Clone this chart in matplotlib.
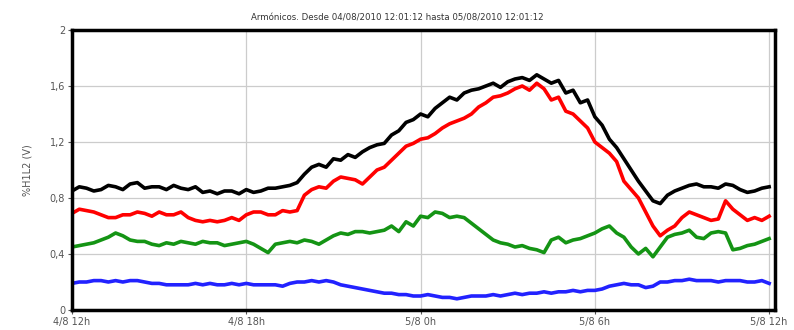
import numpy as np
import matplotlib
matplotlib.use("Agg")
from matplotlib import pyplot as plt

# sample times, hours after 04/08/2010 12:00, every 15 minutes
hours = np.arange(0, 24.01, 0.25)

black = [0.85, 0.88, 0.87, 0.85, 0.86, 0.89, 0.88, 0.86,
         0.90, 0.91, 0.87, 0.88, 0.88, 0.86, 0.89, 0.87,
         0.86, 0.88, 0.84, 0.85, 0.83, 0.85, 0.85, 0.83,
         0.86, 0.84, 0.85, 0.87, 0.87, 0.88, 0.89, 0.91,
         0.97, 1.02, 1.04, 1.02, 1.08, 1.07, 1.11, 1.09,
         1.13, 1.16, 1.18, 1.19, 1.25, 1.28, 1.34, 1.36,
         1.40, 1.38, 1.44, 1.48, 1.52, 1.50, 1.55, 1.57,
         1.58, 1.60, 1.62, 1.59, 1.63, 1.65, 1.66, 1.64,
         1.68, 1.65, 1.62, 1.64, 1.55, 1.57, 1.48, 1.50,
         1.38, 1.32, 1.22, 1.16, 1.08, 1.00, 0.92, 0.85,
         0.78, 0.76, 0.82, 0.85, 0.87, 0.89, 0.90, 0.88,
         0.88, 0.87, 0.90, 0.89, 0.86, 0.84, 0.85, 0.87,
         0.88]
red = [0.69, 0.72, 0.71, 0.70, 0.68, 0.66, 0.66, 0.68,
       0.68, 0.70, 0.69, 0.67, 0.70, 0.68, 0.68, 0.70,
       0.66, 0.64, 0.63, 0.64, 0.63, 0.64, 0.66, 0.64,
       0.68, 0.70, 0.70, 0.68, 0.68, 0.71, 0.70, 0.71,
       0.82, 0.86, 0.88, 0.87, 0.92, 0.95, 0.94, 0.93,
       0.90, 0.95, 1.00, 1.02, 1.07, 1.12, 1.17, 1.19,
       1.22, 1.23, 1.26, 1.30, 1.33, 1.35, 1.37, 1.40,
       1.45, 1.48, 1.52, 1.53, 1.55, 1.58, 1.60, 1.57,
       1.62, 1.58, 1.50, 1.52, 1.42, 1.40, 1.35, 1.30,
       1.20, 1.16, 1.12, 1.06, 0.92, 0.86, 0.80, 0.70,
       0.60, 0.53, 0.57, 0.60, 0.66, 0.70, 0.68, 0.66,
       0.64, 0.65, 0.78, 0.72, 0.68, 0.64, 0.66, 0.64,
       0.67]
green = [0.45, 0.46, 0.47, 0.48, 0.50, 0.52, 0.55, 0.53,
         0.50, 0.49, 0.49, 0.47, 0.46, 0.48, 0.47, 0.49,
         0.48, 0.47, 0.49, 0.48, 0.48, 0.46, 0.47, 0.48,
         0.49, 0.47, 0.44, 0.41, 0.47, 0.48, 0.49, 0.48,
         0.50, 0.49, 0.47, 0.50, 0.53, 0.55, 0.54, 0.56,
         0.56, 0.55, 0.56, 0.57, 0.60, 0.56, 0.63, 0.60,
         0.67, 0.66, 0.70, 0.69, 0.66, 0.67, 0.66, 0.62,
         0.58, 0.54, 0.50, 0.48, 0.47, 0.45, 0.46, 0.44,
         0.43, 0.41, 0.50, 0.52, 0.48, 0.50, 0.51, 0.53,
         0.55, 0.58, 0.60, 0.55, 0.52, 0.45, 0.40, 0.44,
         0.38, 0.45, 0.52, 0.54, 0.55, 0.57, 0.52, 0.51,
         0.55, 0.56, 0.55, 0.43, 0.44, 0.46, 0.47, 0.49,
         0.51]
blue = [0.19, 0.20, 0.20, 0.21, 0.21, 0.20, 0.21, 0.20,
        0.21, 0.21, 0.20, 0.19, 0.19, 0.18, 0.18, 0.18,
        0.18, 0.19, 0.18, 0.19, 0.18, 0.18, 0.19, 0.18,
        0.19, 0.18, 0.18, 0.18, 0.18, 0.17, 0.19, 0.20,
        0.20, 0.21, 0.20, 0.21, 0.20, 0.18, 0.17, 0.16,
        0.15, 0.14, 0.13, 0.12, 0.12, 0.11, 0.11, 0.10,
        0.10, 0.11, 0.10, 0.09, 0.09, 0.08, 0.09, 0.10,
        0.10, 0.10, 0.11, 0.10, 0.11, 0.12, 0.11, 0.12,
        0.12, 0.13, 0.12, 0.13, 0.13, 0.14, 0.13, 0.14,
        0.14, 0.15, 0.17, 0.18, 0.19, 0.18, 0.18, 0.16,
        0.17, 0.20, 0.20, 0.21, 0.21, 0.22, 0.21, 0.21,
        0.21, 0.20, 0.21, 0.21, 0.21, 0.20, 0.20, 0.21,
        0.19]

xtick_pos = [0, 6, 12, 18, 24]
xtick_labels = ['4/8 12h', '4/8 18h', '5/8 0h', '5/8 6h', '5/8 12h']
ytick_pos = [0, 0.4, 0.8, 1.2, 1.6, 2]
ytick_labels = ['0', '0,4', '0,8', '1,2', '1,6', '2']

fig = plt.figure(figsize=(7.94, 3.30), dpi=100)
ax = fig.add_axes([0.0907, 0.0606, 0.8853, 0.8485])

for vals, col in [(black, 'black'), (red, '#ff0000'), (green, '#149414'), (blue, '#2222ff')]:
    ax.plot(hours, vals, color=col, lw=2.6, solid_joinstyle='round')

ax.set_xlim(0, 24.2)
ax.set_ylim(0, 2)
ax.set_xticks(xtick_pos)
ax.set_xticklabels(xtick_labels)
ax.set_yticks(ytick_pos)
ax.set_yticklabels(ytick_labels)
ax.tick_params(labelsize=7, colors='#555555', length=3, width=0.8, pad=2)
ax.grid(True, color='#cccccc', lw=0.9)
ax.set_axisbelow(True)
for s in ax.spines.values():
    s.set_linewidth(2.5)
    s.set_color('black')

ax.set_ylabel('%H1L2 (V)', fontsize=7, color='#555555', labelpad=12)
fig.text(0.5, 0.945, 'Armónicos. Desde 04/08/2010 12:01:12 hasta 05/08/2010 12:01:12',
         ha='center', va='center', fontsize=6.2, color='#333333')

fig.savefig('out.png', dpi=100)
